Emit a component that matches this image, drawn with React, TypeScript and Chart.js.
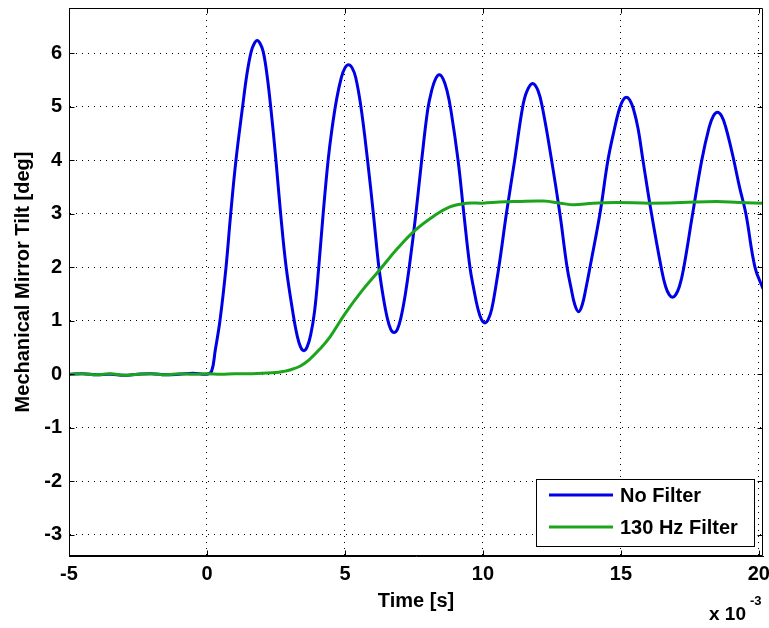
import React, { useEffect, useRef } from "react";
import { Chart, registerables } from "chart.js";

Chart.register(...registerables);

const FONT = '"Liberation Sans", Arial, Helvetica, sans-serif';

// Axis ticks (time in ms, shown with "x 10^-3")
const X_TICKS = [-5, 0, 5, 10, 15, 20];
const Y_TICKS = [-3, -2, -1, 0, 1, 2, 3, 4, 5, 6];
const X_MIN = -5;
const X_MAX = 20.15;
const Y_MIN = -3.4;
const Y_MAX = 6.85;

const SERIES_LABELS = ["No Filter", "130 Hz Filter"];
const SERIES_COLORS = ["#0000e6", "#1ca51c"];

// No Filter
const NO_FILTER_T = [
  -5, -4.5, -4, -3.5, -3, -2.5, -2, -1.5, -1, -0.5, 0, 0.17,
  0.3, 0.47, 0.69, 0.86, 1.05, 1.29, 1.45, 1.6, 1.71, 1.82,
  1.93, 2.04, 2.17, 2.31, 2.5, 2.67, 2.87, 3.13, 3.26, 3.39, 3.51, 3.63, 3.76, 3.9,
  4.05, 4.21, 4.39, 4.52, 4.7, 4.87, 5.0, 5.13, 5.26, 5.39,
  5.58, 5.82, 6.03, 6.23, 6.38, 6.53, 6.66, 6.78, 6.9, 7.03, 7.18,
  7.33, 7.57, 7.78, 8.0, 8.14, 8.28, 8.42, 8.56, 8.7,
  8.84, 9.1, 9.31, 9.53, 9.67, 9.82, 9.95, 10.07, 10.19, 10.32,
  10.47, 10.62, 10.85, 11.15, 11.44, 11.6, 11.8, 12.0, 12.17,
  12.49, 12.79, 13.05, 13.2, 13.33, 13.47, 13.6, 13.73,
  13.88, 14.24, 14.53, 14.75, 14.95, 15.08, 15.2, 15.32, 15.45, 15.62,
  15.8, 16.11, 16.47, 16.62, 16.75, 16.87, 16.99, 17.12, 17.27,
  17.6, 17.93, 18.2, 18.35, 18.5, 18.65, 18.8,
  19.05, 19.3, 19.53, 19.86, 20.15,
];
const NO_FILTER_V = [
  0.0, 0.01, -0.01, 0.0, -0.02, 0.0, 0.01, -0.01, 0.0, 0.02, 0.0, 0.06,
  0.45, 1.0, 2.0, 3.0, 4.0, 5.0, 5.62, 6.03, 6.18, 6.24,
  6.18, 6.03, 5.62, 5.0, 4.0, 3.0, 2.0, 1.1, 0.74, 0.51, 0.44, 0.51, 0.74, 1.18,
  2.0, 3.0, 4.0, 4.55, 5.15, 5.55, 5.73, 5.79, 5.73, 5.55,
  5.0, 4.0, 3.0, 2.0, 1.47, 1.06, 0.84, 0.78, 0.84, 1.06, 1.47,
  2.0, 3.0, 4.0, 4.95, 5.3, 5.52, 5.6, 5.52, 5.3,
  4.94, 4.0, 3.0, 2.0, 1.59, 1.22, 1.02, 0.96, 1.02, 1.22,
  1.65, 2.15, 3.0, 4.0, 5.0, 5.3, 5.44, 5.3, 4.95,
  4.0, 3.0, 2.0, 1.6, 1.3, 1.17, 1.3, 1.6,
  2.0, 3.0, 4.0, 4.55, 4.97, 5.13, 5.18, 5.13, 4.97, 4.6,
  4.0, 3.0, 1.97, 1.64, 1.49, 1.44, 1.49, 1.64, 1.97,
  3.0, 4.0, 4.62, 4.83, 4.9, 4.83, 4.62,
  4.1, 3.5, 3.0, 2.0, 1.6,
];

// 130 Hz Filter
const FILTER_T = [
  -5, -4.5, -4, -3.5, -3, -2.5, -2, -1.5, -1, -0.5, 0, 0.5, 1, 1.5, 2, 2.5,
  2.75, 3.0, 3.37, 3.7, 4.09, 4.46, 5.0, 5.6, 6.24, 6.9, 7.54, 8.2, 8.8,
  9.4, 10.0, 10.6, 11.2, 12.2, 12.8, 13.3, 14.0, 14.84, 16.05, 17.2, 18.47,
  19.3, 20.15,
];
const FILTER_V = [
  0.0, 0.01, -0.01, 0.01, -0.02, 0.0, 0.01, -0.01, 0.01, 0.0, 0.01, 0.0, 0.01, 0.01, 0.02, 0.03,
  0.05, 0.08, 0.15, 0.27, 0.47, 0.7, 1.13, 1.55, 1.94, 2.35, 2.69, 2.95, 3.13,
  3.2, 3.2, 3.22, 3.23, 3.24, 3.2, 3.17, 3.2, 3.21, 3.2, 3.21, 3.23,
  3.21, 3.2,
];

const toPoints = (t: number[], v: number[]) => t.map((x, i) => ({ x, y: v[i] }));

const decorPlugin = {
  id: "decor",
  afterDraw(chart: any) {
    const { ctx, chartArea: a, scales } = chart;
    const L = Math.round(a.left) + 0.5;
    const R = Math.round(a.right) - 0.5;
    const T = Math.round(a.top) + 0.5;
    const B = Math.round(a.bottom) - 0.5;
    ctx.save();
    ctx.strokeStyle = "#000";
    ctx.lineWidth = 1;
    ctx.setLineDash([]);
    ctx.beginPath();
    ctx.rect(L, T, R - L, B - T);
    ctx.stroke();

    // inward tick marks on all sides
    const tl = 5;
    ctx.beginPath();
    X_TICKS.forEach((v) => {
      const px = Math.round(scales.x.getPixelForValue(v)) + 0.5;
      ctx.moveTo(px, B);
      ctx.lineTo(px, B - tl);
      ctx.moveTo(px, T);
      ctx.lineTo(px, T + tl);
    });
    Y_TICKS.forEach((v) => {
      const py = Math.round(scales.y.getPixelForValue(v)) + 0.5;
      ctx.moveTo(L, py);
      ctx.lineTo(L + tl, py);
      ctx.moveTo(R, py);
      ctx.lineTo(R - tl, py);
    });
    ctx.stroke();

    // legend box (inside plot, lower right)
    const lx = 536.5, ly = 479.5, lw = 218, lh = 67;
    ctx.fillStyle = "#fff";
    ctx.fillRect(lx, ly, lw, lh);
    ctx.strokeRect(lx, ly, lw, lh);
    ctx.font = `bold 20px ${FONT}`;
    ctx.textBaseline = "middle";
    ctx.textAlign = "left";
    const rows = [495, 527];
    chart.data.datasets.forEach((ds: any, i: number) => {
      ctx.strokeStyle = ds.borderColor;
      ctx.lineWidth = 3;
      ctx.beginPath();
      ctx.moveTo(549, rows[i]);
      ctx.lineTo(613, rows[i]);
      ctx.stroke();
      ctx.fillStyle = "#000";
      ctx.fillText(ds.label, 620, rows[i] + 1);
    });

    // exponent label
    ctx.fillStyle = "#000";
    ctx.textBaseline = "alphabetic";
    ctx.font = `bold 19px ${FONT}`;
    ctx.fillText("x 10", 709, 620);
    ctx.font = `bold 13px ${FONT}`;
    ctx.fillText("-3", 750, 605);
    ctx.restore();
  },
};

const zeroPad = (s: any) => {
  s.paddingTop = 0;
  s.paddingBottom = 0;
  s.paddingLeft = 0;
  s.paddingRight = 0;
};

export default function App() {
  const ref = useRef<HTMLCanvasElement>(null);

  useEffect(() => {
    const tickFont = { family: FONT, size: 20, weight: "bold" as const };
    const chart = new Chart(ref.current!, {
      type: "line",
      data: {
        datasets: [
          {
            label: SERIES_LABELS[0],
            data: toPoints(NO_FILTER_T, NO_FILTER_V),
            borderColor: SERIES_COLORS[0],
            backgroundColor: SERIES_COLORS[0],
            borderWidth: 3,
            pointRadius: 0,
            tension: 0.4,
            fill: false,
            order: 1,
          },
          {
            label: SERIES_LABELS[1],
            data: toPoints(FILTER_T, FILTER_V),
            borderColor: SERIES_COLORS[1],
            backgroundColor: SERIES_COLORS[1],
            borderWidth: 3,
            pointRadius: 0,
            tension: 0.4,
            fill: false,
            order: 0,
          },
        ],
      },
      options: {
        responsive: false,
        devicePixelRatio: 1,
        animation: false,
        layout: { padding: { left: 0, top: 8, right: 6, bottom: 0 } },
        plugins: {
          legend: { display: false },
          tooltip: { enabled: false },
        },
        scales: {
          x: {
            type: "linear",
            position: "bottom",
            min: X_MIN,
            max: X_MAX,
            afterBuildTicks: (s: any) => {
              s.ticks = X_TICKS.map((v) => ({ value: v }));
            },
            afterFit: (s: any) => {
              s.height = 72;
              zeroPad(s);
            },
            ticks: {
              font: tickFont,
              color: "#000",
              padding: 6,
              autoSkip: false,
              maxRotation: 0,
              callback: (v: any) => String(v),
            },
            grid: { color: "#000", lineWidth: 1, drawTicks: false },
            border: { display: true, color: "#000", width: 1, dash: [1, 5] },
            title: {
              display: true,
              text: "Time [s]",
              font: tickFont,
              color: "#000",
              padding: { top: 0, bottom: 15 },
            },
          },
          y: {
            type: "linear",
            min: Y_MIN,
            max: Y_MAX,
            afterBuildTicks: (s: any) => {
              s.ticks = Y_TICKS.map((v) => ({ value: v }));
            },
            afterFit: (s: any) => {
              s.width = 69;
              zeroPad(s);
            },
            ticks: {
              font: tickFont,
              color: "#000",
              padding: 7,
              autoSkip: false,
              callback: (v: any) => String(v),
            },
            grid: { color: "#000", lineWidth: 1, drawTicks: false },
            border: { display: true, color: "#000", width: 1, dash: [1, 5] },
            title: {
              display: true,
              text: "Mechanical Mirror Tilt [deg]",
              font: tickFont,
              color: "#000",
              padding: { top: 11, bottom: 0 },
            },
          },
        },
      },
      plugins: [decorPlugin],
    });
    return () => chart.destroy();
  }, []);

  return (
    <div
      style={{
        position: "fixed",
        left: 0,
        top: 0,
        width: 769,
        height: 628,
        background: "#fff",
      }}
    >
      <canvas
        ref={ref}
        width={769}
        height={628}
        style={{ display: "block", width: 769, height: 628 }}
      />
    </div>
  );
}
